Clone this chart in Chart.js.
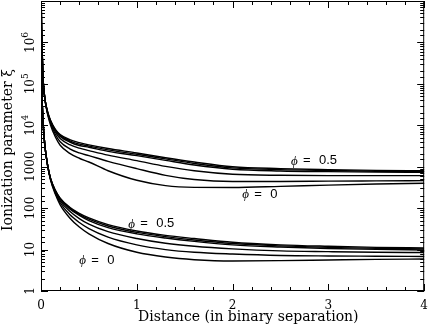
<!DOCTYPE html>
<html><head><meta charset="utf-8">
<script src="https://cdn.jsdelivr.net/npm/chart.js@4/dist/chart.umd.min.js"></script>
<style>html,body{margin:0;padding:0;background:#fff;}#wrap{width:436px;height:325px;}</style>
</head><body><div id="wrap"><canvas id="c" width="436" height="325"></canvas></div>
<script>
// Distance (in binary separation)
const distance = [0.002, 0.005, 0.01, 0.02, 0.04, 0.07, 0.1, 0.15, 0.2, 0.3, 0.4, 0.5, 0.7, 1.0, 1.3, 1.6, 2.0, 2.5, 3.0, 3.5, 4.0];

// Upper family (phi = 0.5 ... 0)
const upperPhi05 = [1.2e7, 3e6, 1e6, 1.6e5, 4.5e4, 2.1e4, 1.3e4, 8000, 6000, 4500, 3800, 3360, 2750, 2150, 1650, 1300, 1000, 900, 850, 815, 800];
const upperPhi04 = [1.2e7, 3e6, 1e6, 1.6e5, 4.5e4, 2.05e4, 1.28e4, 7700, 5700, 4200, 3500, 3150, 2550, 2000, 1550, 1200, 940, 850, 810, 780, 765];
const upperPhi03 = [1.2e7, 3e6, 1e6, 1.6e5, 4.5e4, 2.0e4, 1.25e4, 7400, 5400, 3950, 3250, 2950, 2350, 1850, 1420, 1100, 870, 790, 760, 740, 730];
const upperPhi02 = [1.2e7, 3e6, 1e6, 1.6e5, 4.5e4, 1.95e4, 1.2e4, 6800, 4800, 3400, 2800, 2450, 1900, 1400, 1020, 800, 660, 620, 610, 610, 610];
const upperPhi01 = [1.2e7, 3e6, 1e6, 1.6e5, 4.5e4, 1.9e4, 1.12e4, 6000, 4000, 2700, 2150, 1850, 1350, 900, 620, 490, 440, 440, 448, 455, 462];
const upperPhi00 = [1.2e7, 3e6, 1e6, 1.6e5, 4.5e4, 1.8e4, 1.0e4, 5200, 3300, 2100, 1600, 1300, 800, 470, 350, 318, 315, 335, 360, 382, 400];

// Lower family (phi = 0.5 ... 0)
const lowerPhi05 = [1.5e6, 2.5e5, 6e4, 1.4e4, 3300, 1050, 520, 270, 175, 105, 75, 58, 40, 28, 22, 18.5, 15, 13, 12, 11.3, 10.9];
const lowerPhi04 = [1.5e6, 2.5e5, 6e4, 1.4e4, 3300, 1050, 515, 265, 170, 100, 71, 54, 37, 26, 20.5, 17, 14, 12.3, 11.3, 10.7, 10.4];
const lowerPhi03 = [1.5e6, 2.5e5, 6e4, 1.4e4, 3300, 1050, 510, 258, 163, 95, 67, 50, 34, 24, 19, 15.8, 13, 11.5, 10.6, 10.1, 9.8];
const lowerPhi02 = [1.5e6, 2.5e5, 6e4, 1.4e4, 3300, 1050, 500, 245, 150, 84, 56, 41, 27, 18.5, 14.2, 12, 10.4, 9.3, 8.9, 8.6, 8.5];
const lowerPhi01 = [1.5e6, 2.5e5, 6e4, 1.4e4, 3300, 1050, 490, 230, 135, 70, 45, 32, 20, 13, 10, 8.6, 7.8, 7.2, 7.0, 6.9, 6.8];
const lowerPhi00 = [1.5e6, 2.5e5, 6e4, 1.4e4, 3300, 1050, 475, 215, 120, 58, 35, 24, 14, 8.6, 6.6, 5.7, 5.3, 5.4, 5.6, 5.8, 5.9];

// Tick labels
const xTickLabels = ['0', '1', '2', '3', '4'];
const yTickValues = [1, 10, 100, 1000, 1e4, 1e5, 1e6];
const yTickBase = ['1', '10', '100', '1000', '10', '10', '10'];
const yTickExp = ['', '', '', '', '4', '5', '6'];

// Axis titles
const xTitle = 'Distance (in binary separation)';
const yTitle = 'Ionization parameter \u03BE';

// Curve annotations
const phiText = ['0.5', '0', '0.5', '0'];
const phiX = [2.61, 2.10, 0.91, 0.40];
const phiY = [1420, 220, 43, 5.6];

const allSeries = [upperPhi05, upperPhi04, upperPhi03, upperPhi02, upperPhi01, upperPhi00,
                   lowerPhi05, lowerPhi04, lowerPhi03, lowerPhi02, lowerPhi01, lowerPhi00];

const datasets = allSeries.map(s => ({
  data: distance.map((d, i) => ({x: d, y: s[i]})),
  borderColor: '#000', borderWidth: 1.4, pointRadius: 0, fill: false,
  cubicInterpolationMode: 'monotone'
}));

const serif = '"DejaVu Serif", "Liberation Serif", serif';

const decor = {
  id: 'decor',
  afterDraw(chart) {
    const ctx = chart.ctx, a = chart.chartArea, xs = chart.scales.x, ys = chart.scales.y;
    ctx.save();
    ctx.strokeStyle = '#000'; ctx.lineWidth = 1;
    ctx.strokeRect(a.left + 0.5, a.top + 0.5, a.right - a.left - 1, a.bottom - a.top - 1);
    ctx.beginPath();
    xs.ticks.forEach(t => {
      const p = Math.round(xs.getPixelForValue(t.value)) + 0.5;
      const major = Math.abs(t.value - Math.round(t.value)) < 1e-6;
      const L = major ? 7 : 4;
      ctx.moveTo(p, a.bottom); ctx.lineTo(p, a.bottom - L);
      ctx.moveTo(p, a.top); ctx.lineTo(p, a.top + L);
    });
    ys.ticks.forEach(t => {
      if (t.value < 1 || t.value > 1e7) return;
      const p = Math.round(ys.getPixelForValue(t.value)) + 0.5;
      const lg = Math.log10(t.value);
      const major = Math.abs(lg - Math.round(lg)) < 1e-6;
      const L = major ? 7 : 4;
      ctx.moveTo(a.left, p); ctx.lineTo(a.left + L, p);
      ctx.moveTo(a.right, p); ctx.lineTo(a.right - L, p);
    });
    ctx.stroke();

    ctx.fillStyle = '#000';
    // y tick labels (rotated)
    yTickValues.forEach((v, i) => {
      const p = ys.getPixelForValue(v);
      ctx.save();
      ctx.translate(31, p);
      ctx.rotate(-Math.PI / 2);
      ctx.textBaseline = 'middle';
      ctx.font = '12px ' + serif;
      const wb = ctx.measureText(yTickBase[i]).width;
      ctx.font = '9px ' + serif;
      const we = yTickExp[i] ? ctx.measureText(yTickExp[i]).width : 0;
      const start = -(wb + we) / 2;
      ctx.textAlign = 'left';
      ctx.font = '12px ' + serif;
      ctx.fillText(yTickBase[i], start, 0);
      if (yTickExp[i]) {
        ctx.font = '9px ' + serif;
        ctx.fillText(yTickExp[i], start + wb, -5);
      }
      ctx.restore();
    });

    // axis titles
    ctx.font = '14px ' + serif;
    ctx.textAlign = 'left';
    ctx.textBaseline = 'alphabetic';
    ctx.fillText(xTitle, 138, 321);
    ctx.save();
    ctx.translate(12, 150);
    ctx.rotate(-Math.PI / 2);
    ctx.textAlign = 'center';
    ctx.fillText(yTitle, 0, 0);
    ctx.restore();

    // phi annotations
    phiText.forEach((txt, i) => {
      const px = xs.getPixelForValue(phiX[i]);
      const py = ys.getPixelForValue(phiY[i]);
      ctx.textAlign = 'left';
      ctx.textBaseline = 'middle';
      ctx.font = 'italic 13px "Liberation Serif", serif';
      ctx.fillText('\u03D5', px, py + 1);
      ctx.font = '13px "Liberation Sans", Arial, sans-serif';
      ctx.fillText('=', px + 12, py);
      ctx.fillText(txt, px + 28, py);
    });
    ctx.restore();
  }
};

new Chart(document.getElementById('c'), {
  type: 'line',
  data: { datasets },
  options: {
    responsive: false, animation: false, devicePixelRatio: 1,
    layout: { padding: { top: 1, right: 3, left: 0, bottom: 0 } },
    plugins: { legend: { display: false }, tooltip: { enabled: false } },
    scales: {
      x: {
        type: 'linear', min: 0, max: 4,
        grid: { display: false, drawTicks: false },
        border: { display: false },
        ticks: {
          stepSize: 0.2, autoSkip: false, maxRotation: 0, padding: 8, color: '#000',
          font: { family: serif, size: 12 },
          callback: (v) => {
            const r = Math.round(v);
            return Math.abs(v - r) < 1e-6 ? xTickLabels[r] : '';
          }
        },
        afterFit: (s) => { s.height = 34; }
      },
      y: {
        type: 'logarithmic', min: 1, max: 1e7,
        grid: { display: false, drawTicks: false },
        border: { display: false },
        ticks: { display: false },
        afterFit: (s) => { s.width = 41; }
      }
    }
  },
  plugins: [decor]
});
</script>
</body></html>
